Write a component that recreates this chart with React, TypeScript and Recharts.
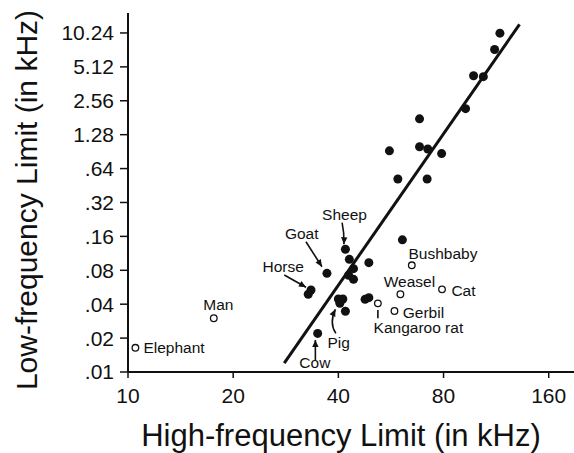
import React from "react";
import { ScatterChart, Scatter, XAxis, YAxis, ReferenceLine, Label } from "recharts";

// hearing range of mammals: high- vs low-frequency limit (kHz)
const filledHigh = [116, 112, 97.5, 104, 92.5, 68.3, 56, 68.3, 72.1, 79, 59.2, 71.8, 61, 41.9, 43, 48.9, 44.2, 42.8, 44.2, 37.1, 33.4, 32.8, 40, 41.2, 40.4, 41.9, 47.7, 48.9, 34.9];
const filledLow = [10.2, 7.3, 4.27, 4.19, 2.18, 1.77, 0.92, 1.0, 0.955, 0.87, 0.517, 0.517, 0.149, 0.123, 0.1, 0.0935, 0.0827, 0.0722, 0.0665, 0.0752, 0.0535, 0.049, 0.0445, 0.0445, 0.0407, 0.0346, 0.0442, 0.0457, 0.022];
const filledNames = ["", "", "", "", "", "", "", "", "", "", "", "", "", "Sheep", "", "", "", "", "", "Goat", "Horse", "", "", "", "Pig", "", "", "", "Cow"];

const openHigh = [10.5, 17.6, 51.9, 57.9, 60.2, 79.2, 64.9];
const openLow = [0.0164, 0.03, 0.0407, 0.0348, 0.049, 0.0542, 0.0886];
const openNames = ["Elephant", "Man", "Kangaroo rat", "Gerbil", "Weasel", "Cat", "Bushbaby"];

// regression line end points
const fitHigh = [28, 132];
const fitLow = [0.012, 12.2];

const xTicks = [10, 20, 40, 80, 160];
const yTicks = [0.01, 0.02, 0.04, 0.08, 0.16, 0.32, 0.64, 1.28, 2.56, 5.12, 10.24];

const INK = "#111";
const FONT = "'Liberation Sans', Arial, Helvetica, sans-serif";

// label placement relative to the point (px)
type Note = { tx: number; ty: number; arrow?: number[]; ctrl?: number[]; head?: boolean };
const notes: Record<string, Note> = {
  Elephant: { tx: 8, ty: 5.5 },
  Man: { tx: -10.5, ty: -8 },
  Horse: { tx: -48.5, ty: -17.5, arrow: [-26.7, -15, -5, -2.7], head: true },
  Goat: { tx: -42, ty: -34.3, arrow: [-21, -31.6, -5, -6.6], head: true },
  Sheep: { tx: -23.3, ty: -29.3, arrow: [-3.3, -26.6, -1.5, -5], ctrl: [-1, -16], head: true },
  Pig: { tx: -12.4, ty: 44.7, arrow: [-4, 30, -4.5, 6], ctrl: [-11, 20], head: true },
  Cow: { tx: -18.3, ty: 34.7, arrow: [-2.3, 26.7, -2.3, 6.5], head: true },
  "Kangaroo rat": { tx: -4.3, ty: 30, arrow: [0, 6.7, 0, 15] },
  Gerbil: { tx: 8.3, ty: 6.7 },
  Weasel: { tx: -16.7, ty: -7 },
  Cat: { tx: 9.4, ty: 6.7 },
  Bushbaby: { tx: -3.3, ty: -6.3 },
};

const filledData = filledHigh.map((x, i) => ({ x, y: filledLow[i], name: filledNames[i] }));
const openData = openHigh.map((x, i) => ({ x, y: openLow[i], name: openNames[i] }));

function renderNote(cx: number, cy: number, name: string) {
  const n = notes[name];
  if (!n) return null;
  let arrow = null;
  if (n.arrow) {
    const [x1, y1, x2, y2] = n.arrow;
    const sx = cx + x1, sy = cy + y1, ex = cx + x2, ey = cy + y2;
    const c = n.ctrl ? [cx + n.ctrl[0], cy + n.ctrl[1]] : null;
    const d = c ? `M${sx},${sy} Q${c[0]},${c[1]} ${ex},${ey}` : `M${sx},${sy} L${ex},${ey}`;
    let head = null;
    if (n.head) {
      const fx = c ? c[0] : sx, fy = c ? c[1] : sy;
      const len = Math.hypot(ex - fx, ey - fy) || 1;
      const ux = (ex - fx) / len, uy = (ey - fy) / len;
      const bx = ex - ux * 7, by = ey - uy * 7;
      head = (
        <polygon
          points={`${ex},${ey} ${bx - uy * 3.2},${by + ux * 3.2} ${bx + uy * 3.2},${by - ux * 3.2}`}
          fill={INK}
        />
      );
    }
    arrow = (
      <g>
        <path d={d} fill="none" stroke={INK} strokeWidth={1.6} />
        {head}
      </g>
    );
  }
  return (
    <g>
      {arrow}
      <text x={cx + n.tx} y={cy + n.ty} fontSize={15.5} fontFamily={FONT} fill={INK}>
        {name}
      </text>
    </g>
  );
}

const FilledDot = (props: any) => {
  const { cx, cy, payload } = props;
  return (
    <g>
      <circle cx={cx} cy={cy} r={4.5} fill={INK} />
      {renderNote(cx, cy, payload.name)}
    </g>
  );
};

const OpenDot = (props: any) => {
  const { cx, cy, payload } = props;
  return (
    <g>
      <circle cx={cx} cy={cy} r={3.3} fill="#fff" stroke={INK} strokeWidth={1.3} />
      {renderNote(cx, cy, payload.name)}
    </g>
  );
};

const fmtY = (v: number) => (v >= 1 ? v.toFixed(2) : v.toFixed(2).replace(/^0/, ""));

export default function App() {
  return (
    <div style={{ position: "absolute", left: 0, top: 0, width: 574, height: 453, background: "#fff" }}>
      <ScatterChart width={574} height={453} margin={{ top: 13, right: 0, bottom: 0, left: 0 }}>
        <XAxis
          type="number"
          dataKey="x"
          scale="log"
          domain={[10, 189]}
          allowDataOverflow
          ticks={xTicks}
          interval={0}
          height={81}
          tickSize={6}
          tickMargin={10}
          axisLine={{ stroke: INK, strokeWidth: 2 }}
          tickLine={{ stroke: INK, strokeWidth: 1.5 }}
          tick={{ fill: INK, fontSize: 21, fontFamily: FONT }}
        >
          <Label
            content={() => (
              <text x={341} y={446} textAnchor="middle" fontSize={31} fontFamily={FONT} fill={INK}>
                High-frequency Limit (in kHz)
              </text>
            )}
          />
        </XAxis>
        <YAxis
          type="number"
          dataKey="y"
          scale="log"
          domain={[0.01, 15.4]}
          allowDataOverflow
          ticks={yTicks}
          interval={0}
          width={128}
          tickSize={8}
          tickMargin={6}
          tickFormatter={fmtY}
          axisLine={{ stroke: INK, strokeWidth: 2 }}
          tickLine={{ stroke: INK, strokeWidth: 1.5 }}
          tick={{ fill: INK, fontSize: 21, fontFamily: FONT }}
        >
          <Label
            content={() => (
              <text
                x={37}
                y={200}
                transform="rotate(-90, 37, 200)"
                textAnchor="middle"
                fontSize={30}
                fontFamily={FONT}
                fill={INK}
              >
                Low-frequency Limit (in kHz)
              </text>
            )}
          />
        </YAxis>
        <ReferenceLine
          segment={[
            { x: fitHigh[0], y: fitLow[0] },
            { x: fitHigh[1], y: fitLow[1] },
          ]}
          stroke={INK}
          strokeWidth={3}
          ifOverflow="visible"
        />
        <Scatter data={filledData} shape={FilledDot} isAnimationActive={false} />
        <Scatter data={openData} shape={OpenDot} isAnimationActive={false} />
      </ScatterChart>
    </div>
  );
}
